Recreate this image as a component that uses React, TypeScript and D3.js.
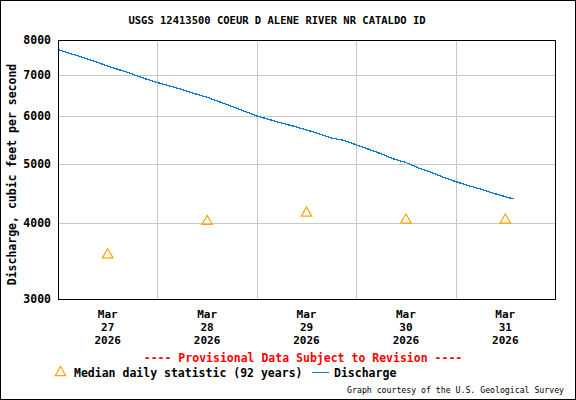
import { useEffect, useRef } from 'react';
import * as d3 from 'd3';

const title = 'USGS 12413500 COEUR D ALENE RIVER NR CATALDO ID';
const yTicks = [3000, 4000, 5000, 6000, 7000, 8000];
const dayTicks = ['2026-03-28 00:00', '2026-03-29 00:00', '2026-03-30 00:00', '2026-03-31 00:00'];
const labelDays = ['2026-03-27 12:00', '2026-03-28 12:00', '2026-03-29 12:00', '2026-03-30 12:00', '2026-03-31 12:00'];

// median daily statistic (92 years), plotted at noon
const medianTimes = ['2026-03-27 12:00', '2026-03-28 12:00', '2026-03-29 12:00', '2026-03-30 12:00', '2026-03-31 12:00'];
const medianCfs = [3560, 4040, 4170, 4060, 4060];

// discharge, read every 3 hours
const dischargeTimes = [
  '2026-03-27 00:00', '2026-03-27 03:00', '2026-03-27 06:00', '2026-03-27 09:00',
  '2026-03-27 12:00', '2026-03-27 15:00', '2026-03-27 18:00', '2026-03-27 21:00',
  '2026-03-28 00:00', '2026-03-28 03:00', '2026-03-28 06:00', '2026-03-28 09:00',
  '2026-03-28 12:00', '2026-03-28 15:00', '2026-03-28 18:00', '2026-03-28 21:00',
  '2026-03-29 00:00', '2026-03-29 03:00', '2026-03-29 06:00', '2026-03-29 09:00',
  '2026-03-29 12:00', '2026-03-29 15:00', '2026-03-29 18:00', '2026-03-29 21:00',
  '2026-03-30 00:00', '2026-03-30 03:00', '2026-03-30 06:00', '2026-03-30 09:00',
  '2026-03-30 12:00', '2026-03-30 15:00', '2026-03-30 18:00', '2026-03-30 21:00',
  '2026-03-31 00:00', '2026-03-31 03:00', '2026-03-31 06:00', '2026-03-31 09:00',
  '2026-03-31 12:00', '2026-03-31 14:00',
];
const dischargeCfs = [
  7720, 7600, 7490, 7370,
  7250, 7140, 7030, 6910,
  6810, 6720, 6630, 6530,
  6440, 6330, 6220, 6110,
  6000, 5920, 5840, 5770,
  5690, 5610, 5520, 5470,
  5380, 5290, 5200, 5100,
  5030, 4930, 4850, 4760,
  4680, 4610, 4550, 4480,
  4420, 4380,
];

export default function App() {
  const svgRef = useRef<SVGSVGElement>(null);

  useEffect(() => {
    if (!svgRef.current) return;
    const svg = d3.select(svgRef.current);
    svg.selectAll('*').remove();

    const W = 576;
    const H = 400;
    const left = 58, right = 555, top = 40, bottom = 299;
    const font = '"DejaVu Sans Mono", monospace';
    const parse = d3.timeParse('%Y-%m-%d %H:%M');

    const x = d3.scaleTime()
      .domain([parse('2026-03-27 00:00')!, parse('2026-04-01 00:00')!])
      .range([left, right]);
    const y = d3.scaleLog().domain([3000, 8000]).range([bottom, top]);

    svg.append('rect')
      .attr('x', 0).attr('y', 0).attr('width', W).attr('height', H)
      .attr('fill', '#fff');
    svg.append('rect')
      .attr('x', 0.5).attr('y', 0.5).attr('width', W - 1).attr('height', H - 1)
      .attr('fill', 'none').attr('stroke', '#000');

    // title
    svg.append('text')
      .attr('x', 277).attr('y', 24)
      .attr('text-anchor', 'middle')
      .attr('font-family', font).attr('font-weight', 'bold').attr('font-size', 10.5)
      .text(title);

    // grid
    const grid = svg.append('g').attr('stroke', '#c8c8c8').attr('stroke-width', 1)
      .attr('shape-rendering', 'crispEdges');
    grid.selectAll('line.h')
      .data(yTicks.slice(1, -1))
      .join('line')
      .attr('x1', left).attr('x2', right)
      .attr('y1', d => Math.round(y(d)) + 0.5).attr('y2', d => Math.round(y(d)) + 0.5);
    grid.selectAll('line.v')
      .data(dayTicks.map(d => parse(d)!))
      .join('line')
      .attr('x1', d => Math.round(x(d)) + 0.5).attr('x2', d => Math.round(x(d)) + 0.5)
      .attr('y1', top).attr('y2', bottom);

    // y tick labels
    svg.append('g')
      .selectAll('text')
      .data(yTicks)
      .join('text')
      .attr('x', 51).attr('y', d => y(d) + 4)
      .attr('text-anchor', 'end')
      .attr('font-family', font).attr('font-weight', 'bold').attr('font-size', 11.5)
      .text(d => String(d));

    // y axis title
    svg.append('text')
      .attr('transform', `translate(16,${(top + bottom) / 2 + 5}) rotate(-90)`)
      .attr('text-anchor', 'middle')
      .attr('font-family', font).attr('font-weight', 'bold').attr('font-size', 11.5)
      .text('Discharge, cubic feet per second');

    // x labels
    const fmtDay = d3.timeFormat('%d');
    const xl = svg.append('g')
      .selectAll('g')
      .data(labelDays.map(d => parse(d)!))
      .join('g')
      .attr('transform', d => `translate(${x(d)},0)`)
      .attr('font-family', font).attr('font-weight', 'bold').attr('font-size', 11)
      .attr('text-anchor', 'middle');
    xl.append('text').attr('y', 318).text(d => d3.timeFormat('%b')(d));
    xl.append('text').attr('y', 331).text(d => fmtDay(d));
    xl.append('text').attr('y', 344).text(d => d3.timeFormat('%Y')(d));

    // discharge line
    const pts = dischargeTimes.map((t, i) => ({ t: parse(t)!, v: dischargeCfs[i] }));
    svg.append('path')
      .datum(pts)
      .attr('fill', 'none')
      .attr('stroke', '#0a7ccd')
      .attr('stroke-width', 1.3)
      .attr('shape-rendering', 'crispEdges')
      .attr('d', d3.line<{ t: Date; v: number }>().x(d => x(d.t)).y(d => y(d.v)));

    // median triangles
    const tri = d3.symbol().type(d3.symbolTriangle).size(48);
    svg.append('g')
      .selectAll('path')
      .data(medianTimes.map((t, i) => ({ t: parse(t)!, v: medianCfs[i] })))
      .join('path')
      .attr('transform', d => `translate(${x(d.t)},${y(d.v) + 1})`)
      .attr('d', tri()!)
      .attr('fill', 'none')
      .attr('stroke', '#ffa500')
      .attr('stroke-width', 1.2);

    // plot frame
    svg.append('rect')
      .attr('x', left + 0.5).attr('y', top + 0.5)
      .attr('width', right - left).attr('height', bottom - top)
      .attr('fill', 'none').attr('stroke', '#000').attr('stroke-width', 1.2)
      .attr('shape-rendering', 'crispEdges');

    // provisional note
    svg.append('text')
      .attr('x', 303).attr('y', 362)
      .attr('text-anchor', 'middle')
      .attr('font-family', font).attr('font-weight', 'bold').attr('font-size', 11.5)
      .attr('fill', '#ff0000')
      .text('---- Provisional Data Subject to Revision ----');

    // legend
    svg.append('path')
      .attr('transform', 'translate(60.5,372.5)')
      .attr('d', tri()!)
      .attr('fill', 'none').attr('stroke', '#ffa500').attr('stroke-width', 1.2);
    svg.append('text')
      .attr('x', 74).attr('y', 377)
      .attr('font-family', font).attr('font-weight', 'bold').attr('font-size', 11.5)
      .text('Median daily statistic (92 years)');
    svg.append('line')
      .attr('x1', 312).attr('x2', 329).attr('y1', 372.5).attr('y2', 372.5)
      .attr('stroke', '#0a7ccd');
    svg.append('text')
      .attr('x', 334).attr('y', 377)
      .attr('font-family', font).attr('font-weight', 'bold').attr('font-size', 11.5)
      .text('Discharge');

    svg.append('text')
      .attr('x', 564).attr('y', 393)
      .attr('text-anchor', 'end')
      .attr('font-family', font).attr('font-size', 8.2)
      .text('Graph courtesy of the U.S. Geological Survey');
  }, []);

  return (
    <svg
      ref={svgRef}
      width={576}
      height={400}
      style={{ position: 'absolute', left: 0, top: 0, display: 'block' }}
    />
  );
}
